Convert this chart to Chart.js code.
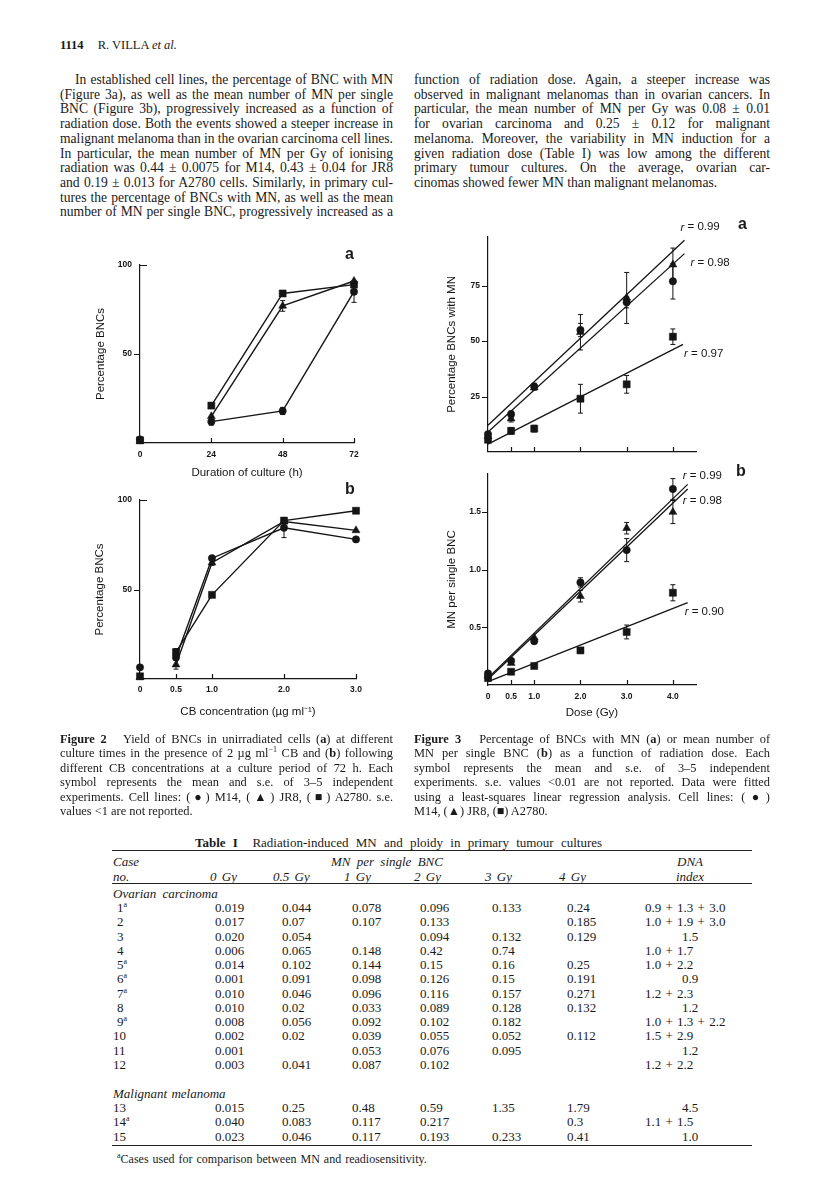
<!DOCTYPE html>
<html>
<head>
<meta charset="utf-8">
<script src="https://cdn.jsdelivr.net/npm/chart.js@4.4.0/dist/chart.umd.min.js"></script>
<style>
  body { margin: 0; background: #fff; }
  #page { position: relative; width: 816px; height: 1182px; overflow: hidden;
          font-family: 'Liberation Serif', 'Times New Roman', serif; color: #1a1a1a; }
  canvas { position: absolute; }
  .col { position: absolute; font-size: 13.6px; line-height: 14.7px; word-spacing: -2px; }
  .col div, .cap div { text-align: justify; text-align-last: justify; }
  .col div.end, .cap div.end { text-align-last: left; word-spacing: 0; }
  .cap { position: absolute; font-size: 12.4px; line-height: 14.4px; word-spacing: -2px; }
  .t { position: absolute; font-size: 13px; line-height: 14px; white-space: nowrap; }
  .rule { position: absolute; left: 112px; width: 640px; border-top: 1px solid #222; }
  .panel { position: absolute; font: bold 16px 'Liberation Sans', Arial, sans-serif; line-height: 1; }
  sup { font-size: 8px; line-height: 0; }
</style>
</head>
<body>
<div id="page">
  <div class="t" style="left:60px;top:38px;font-size:12.5px"><b>1114</b><span style="margin-left:14px">R. VILLA <i>et al.</i></span></div>

  <div class="col" style="left:60px;top:73px;width:333px">
    <div style="text-indent:15px">In established cell lines, the percentage of BNC with MN</div>
    <div>(Figure 3a), as well as the mean number of MN per single</div>
    <div>BNC (Figure 3b), progressively increased as a function of</div>
    <div>radiation dose. Both the events showed a steeper increase in</div>
    <div>malignant melanoma than in the ovarian carcinoma cell lines.</div>
    <div>In particular, the mean number of MN per Gy of ionising</div>
    <div>radiation was 0.44 ± 0.0075 for M14, 0.43 ± 0.04 for JR8</div>
    <div>and 0.19 ± 0.013 for A2780 cells. Similarly, in primary cul-</div>
    <div>tures the percentage of BNCs with MN, as well as the mean</div>
    <div>number of MN per single BNC, progressively increased as a</div>
  </div>
  <div class="col" style="left:414px;top:73px;width:356px">
    <div>function of radiation dose. Again, a steeper increase was</div>
    <div>observed in malignant melanomas than in ovarian cancers. In</div>
    <div>particular, the mean number of MN per Gy was 0.08 ± 0.01</div>
    <div>for ovarian carcinoma and 0.25 ± 0.12 for malignant</div>
    <div>melanoma. Moreover, the variability in MN induction for a</div>
    <div>given radiation dose (Table I) was low among the different</div>
    <div>primary tumour cultures. On the average, ovarian car-</div>
    <div class="end">cinomas showed fewer MN than malignant melanomas.</div>
  </div>

  <canvas id="fig2a" width="320" height="240" style="left:60px;top:245px"></canvas>
  <canvas id="fig2b" width="320" height="245" style="left:60px;top:480px"></canvas>
  <canvas id="fig3a" width="340" height="250" style="left:420px;top:215px"></canvas>
  <canvas id="fig3b" width="340" height="268" style="left:420px;top:455px"></canvas>

  <div class="panel" style="left:345px;top:246px">a</div>
  <div class="panel" style="left:345px;top:481px">b</div>
  <div class="panel" style="left:738px;top:216px">a</div>
  <div class="panel" style="left:736px;top:463px">b</div>

  <div class="cap" style="left:60px;top:732px;width:333px">
    <div><b>Figure 2</b>&nbsp;&nbsp; Yield of BNCs in unirradiated cells (<b>a</b>) at different</div>
    <div>culture times in the presence of 2 µg ml<sup>−1</sup> CB and (<b>b</b>) following</div>
    <div>different CB concentrations at a culture period of 72 h. Each</div>
    <div>symbol represents the mean and s.e. of 3–5 independent</div>
    <div>experiments. Cell lines: (●) M14, (▲) JR8, (■) A2780. s.e.</div>
    <div class="end">values &lt;1 are not reported.</div>
  </div>
  <div class="cap" style="left:414px;top:732px;width:356px">
    <div><b>Figure 3</b>&nbsp;&nbsp; Percentage of BNCs with MN (<b>a</b>) or mean number of</div>
    <div>MN per single BNC (<b>b</b>) as a function of radiation dose. Each</div>
    <div>symbol represents the mean and s.e. of 3–5 independent</div>
    <div>experiments. s.e. values &lt;0.01 are not reported. Data were fitted</div>
    <div>using a least-squares linear regression analysis. Cell lines: (●)</div>
    <div class="end">M14, (▲) JR8, (■) A2780.</div>
  </div>

  <div id="table"></div>
</div>

<script>
// ---------- Figure 2a: duration of culture ----------
const hours = [0, 24, 48, 72];
const m14Hours = [2, 12, 18, 85];
const m14HoursSe = [0, 2, 2, 6];
const jr8Hours = [1, 15, 77, 91];
const jr8HoursSe = [0, 0, 3, 0];
const a2780Hours = [1.5, 21, 84, 89];
const a2780HoursSe = [0, 1.5, 0, 0];

// ---------- Figure 2b: CB concentration ----------
const cbConc = [0, 0.5, 1, 2, 3];
const m14Cb = [6.5, 12, 67.5, 84.5, 78];
const m14CbSe = [0, 0, 0, 5.5, 0];
const jr8Cb = [1, 8, 65, 88, 83];
const jr8CbSe = [0, 2.5, 1.5, 0, 0];
const a2780Cb = [1.5, 15, 47, 88.5, 94];
const a2780CbSe = [0, 2, 0, 0, 0];

// ---------- Figure 3: dose ----------
const doses = [0, 0.5, 1, 2, 3, 4];
const m14Pct = [8, 17, 29.5, 55, 67.5, 77];
const m14PctSe = [0, 1.5, 1.5, 3, 2.5, 8];
const jr8Pct = [7, 15, 29, 54, 69.5, 84.5];
const jr8PctSe = [0, 1.5, 1, 8, 11.5, 7.5];
const a2780Pct = [5.5, 9.5, 10.5, 24, 30.5, 52];
const a2780PctSe = [0, 1.5, 1.5, 6.5, 4, 3.5];

const m14Mn = [0.1, 0.21, 0.38, 0.89, 1.17, 1.70];
const m14MnSe = [0, 0, 0.02, 0.04, 0.1, 0.09];
const jr8Mn = [0.08, 0.19, 0.41, 0.77, 1.36, 1.50];
const jr8MnSe = [0, 0, 0, 0.05, 0.05, 0.1];
const a2780Mn = [0.06, 0.115, 0.165, 0.30, 0.46, 0.80];
const a2780MnSe = [0, 0, 0, 0, 0.06, 0.07];

// regression lines: [start, end] doses and values, with r
const fitPctX = [[0, 4.25], [0, 4.25], [0, 4.22]];
const fitPctY = [[12, 95.5], [9, 89.5], [3.5, 48.5]];
const fitPctR = ['0.99', '0.98', '0.97'];
const fitMnX = [[0, 4.32], [0, 4.32], [0, 4.32]];
const fitMnY = [[0.06, 1.74], [0.05, 1.70], [0.03, 0.715]];
const fitMnR = ['0.99', '0.98', '0.90'];

// ---------- axes ----------
const hourTicks = [0, 24, 48, 72];
const hourLabels = ['0', '24', '48', '72'];
const cbTicks = [0, 0.5, 1, 2, 3];
const cbLabels = ['0', '0.5', '1.0', '2.0', '3.0'];
const doseTicks = [0, 0.5, 1, 2, 3, 4];
const doseLabels = ['0', '0.5', '1.0', '2.0', '3.0', '4.0'];
const pctTicks = [50, 100];
const pctLabels = ['50', '100'];
const pctMnTicks = [25, 50, 75];
const pctMnLabels = ['25', '50', '75'];
const mnTicks = [0.5, 1.0, 1.5];
const mnLabels = ['0.5', '1.0', '1.5'];

// ---------- Table I ----------
const tableDoses = ['0 Gy', '0.5 Gy', '1 Gy', '2 Gy', '3 Gy', '4 Gy'];
const ovarianCases = ['1', '2', '3', '4', '5', '6', '7', '8', '9', '10', '11', '12'];
const ovarianUsed = [1, 0, 0, 0, 1, 1, 1, 0, 1, 0, 0, 0];
const ovarianMN = [
  ['0.019', '0.044', '0.078', '0.096', '0.133', '0.24'],
  ['0.017', '0.07', '0.107', '0.133', '', '0.185'],
  ['0.020', '0.054', '', '0.094', '0.132', '0.129'],
  ['0.006', '0.065', '0.148', '0.42', '0.74', ''],
  ['0.014', '0.102', '0.144', '0.15', '0.16', '0.25'],
  ['0.001', '0.091', '0.098', '0.126', '0.15', '0.191'],
  ['0.010', '0.046', '0.096', '0.116', '0.157', '0.271'],
  ['0.010', '0.02', '0.033', '0.089', '0.128', '0.132'],
  ['0.008', '0.056', '0.092', '0.102', '0.182', ''],
  ['0.002', '0.02', '0.039', '0.055', '0.052', '0.112'],
  ['0.001', '', '0.053', '0.076', '0.095', ''],
  ['0.003', '0.041', '0.087', '0.102', '', '']
];
const ovarianDNA = ['0.9 + 1.3 + 3.0', '1.0 + 1.9 + 3.0', '1.5', '1.0 + 1.7', '1.0 + 2.2', '0.9',
  '1.2 + 2.3', '1.2', '1.0 + 1.3 + 2.2', '1.5 + 2.9', '1.2', '1.2 + 2.2'];
const melanomaCases = ['13', '14', '15'];
const melanomaUsed = [0, 1, 0];
const melanomaMN = [
  ['0.015', '0.25', '0.48', '0.59', '1.35', '1.79'],
  ['0.040', '0.083', '0.117', '0.217', '', '0.3'],
  ['0.023', '0.046', '0.117', '0.193', '0.233', '0.41']
];
const melanomaDNA = ['4.5', '1.1 + 1.5', '1.0'];

const ink = '#151515';
const sans = "'Liberation Sans', Arial, sans-serif";

// error bars, inward/outward tick marks and r labels
const paperPlugin = {
  id: 'paper',
  beforeDatasetsDraw(chart) {
    const { ctx, scales: { x, y } } = chart;
    ctx.save();
    ctx.strokeStyle = ink;
    ctx.lineWidth = 1;
    chart.data.datasets.forEach(ds => {
      if (!ds.err) return;
      ds.data.forEach((p, i) => {
        const e = ds.err[i];
        if (!e) return;
        const px = x.getPixelForValue(p.x);
        const top = y.getPixelForValue(p.y + e);
        const bot = y.getPixelForValue(p.y - e);
        ctx.beginPath();
        ctx.moveTo(px, top); ctx.lineTo(px, bot);
        ctx.moveTo(px - 2.5, top); ctx.lineTo(px + 2.5, top);
        ctx.moveTo(px - 2.5, bot); ctx.lineTo(px + 2.5, bot);
        ctx.stroke();
      });
    });
    ctx.restore();
  },
  afterDraw(chart) {
    const { ctx, scales: { x, y } } = chart;
    ctx.save();
    ctx.strokeStyle = ink;
    ctx.lineWidth = 1.2;
    ctx.beginPath();
    x.ticks.forEach(t => {
      if (t.value === x.min) return;
      const px = Math.round(x.getPixelForValue(t.value)) + 0.5;
      ctx.moveTo(px, x.top); ctx.lineTo(px, x.top - 5);
    });
    y.ticks.forEach(t => {
      const py = Math.round(y.getPixelForValue(t.value)) + 0.5;
      const dir = t.value === y.max ? 7 : -6;
      ctx.moveTo(y.right, py); ctx.lineTo(y.right + dir, py);
    });
    ctx.stroke();

    ctx.fillStyle = ink;
    ctx.textBaseline = 'middle';
    chart.data.datasets.forEach(ds => {
      if (!ds.rLabel) return;
      const end = ds.data[ds.data.length - 1];
      const lx = x.getPixelForValue(end.x) + ds.rOffset[0];
      const ly = y.getPixelForValue(end.y) + ds.rOffset[1];
      ctx.font = 'italic 11.5px ' + sans;
      ctx.fillText('r', lx, ly);
      const w = ctx.measureText('r').width;
      ctx.font = '11.5px ' + sans;
      ctx.fillText(' = ' + ds.rLabel, lx + w, ly);
    });
    ctx.restore();
  }
};

function series(xs, ys, errs, shape, joined) {
  return {
    data: xs.map((v, i) => ({ x: v, y: ys[i] })),
    err: errs,
    showLine: joined,
    borderColor: ink,
    backgroundColor: ink,
    borderWidth: 1.4,
    pointStyle: shape,
    pointRadius: shape === 'triangle' ? 4.6 : (shape === 'rect' ? 5 : 3.7),
    pointBorderWidth: 0.5,
    clip: false,
    // the zero point is shown alone, lines start at the next point
    segment: { borderColor: c => (c.p0DataIndex === 0 ? 'rgba(0,0,0,0)' : ink) }
  };
}

function fit(xs, ys, r, offset) {
  return {
    data: xs.map((v, i) => ({ x: v, y: ys[i] })),
    showLine: true,
    borderColor: ink,
    borderWidth: 1.3,
    pointRadius: 0,
    clip: false,
    rLabel: r,
    rOffset: offset
  };
}

function axis(o) {
  return {
    type: 'linear',
    min: o.min,
    max: o.max,
    grid: { display: false, drawTicks: false },
    border: { display: true, color: ink, width: 1.2 },
    afterBuildTicks: s => { s.ticks = o.ticks.map(v => ({ value: v })); },
    afterFit: s => { if (o.width) s.width = o.width; if (o.height) s.height = o.height; },
    ticks: {
      display: !!o.labels,
      autoSkip: false,
      maxRotation: 0,
      padding: o.pad || 0,
      color: ink,
      font: { family: sans, size: 8.5, weight: 'bold' },
      callback: (v, i) => (o.labels ? o.labels[i] : '')
    },
    title: o.title ? {
      display: true,
      text: o.title,
      color: ink,
      font: { family: sans, size: 11.5 },
      padding: o.titlePad
    } : { display: false }
  };
}

function figure(id, datasets, pad, xAxis, yAxis) {
  return new Chart(document.getElementById(id), {
    type: 'scatter',
    data: { datasets: datasets },
    options: {
      responsive: false,
      animation: false,
      events: [],
      layout: { padding: pad },
      plugins: { legend: { display: false }, tooltip: { enabled: false } },
      scales: { x: axis(xAxis), y: axis(yAxis) }
    },
    plugins: [paperPlugin]
  });
}

figure('fig2a', [
  series(hours, m14Hours, m14HoursSe, 'circle', true),
  series(hours, jr8Hours, jr8HoursSe, 'triangle', true),
  series(hours, a2780Hours, a2780HoursSe, 'rect', true)
], { left: 0, top: 20, right: 26, bottom: 5 },
{ min: 0, max: 72, ticks: hourTicks, labels: hourLabels, height: 37, pad: 6.5,
  title: 'Duration of culture (h)', titlePad: { top: 0, bottom: 0 } },
{ min: 0, max: 100, ticks: pctTicks, labels: pctLabels, width: 80, pad: 8,
  title: 'Percentage BNCs', titlePad: { top: 34, bottom: 0 } });

figure('fig2b', [
  series(cbConc, m14Cb, m14CbSe, 'circle', true),
  series(cbConc, jr8Cb, jr8CbSe, 'triangle', true),
  series(cbConc, a2780Cb, a2780CbSe, 'rect', true)
], { left: 0, top: 20, right: 24, bottom: 6 },
{ min: 0, max: 3, ticks: cbTicks, labels: cbLabels, height: 40, pad: 5.5,
  title: 'CB concentration (µg ml⁻¹)', titlePad: { top: 0, bottom: 0 } },
{ min: 0, max: 100, ticks: pctTicks, labels: pctLabels, width: 80, pad: 8,
  title: 'Percentage BNCs', titlePad: { top: 33, bottom: 0 } });

figure('fig3a', [
  fit(fitPctX[0], fitPctY[0], fitPctR[0], [-4, -13]),
  fit(fitPctX[1], fitPctY[1], fitPctR[1], [6, 9]),
  fit(fitPctX[2], fitPctY[2], fitPctR[2], [1, 9]),
  series(doses, m14Pct, m14PctSe, 'circle', false),
  series(doses, jr8Pct, jr8PctSe, 'triangle', false),
  series(doses, a2780Pct, a2780PctSe, 'rect', false)
], { left: 0, top: 22, right: 64, bottom: 4 },
{ min: 0, max: 4.5, ticks: doseTicks, height: 4 },
{ min: 0, max: 97, ticks: pctMnTicks, labels: pctMnLabels, width: 68, pad: 8,
  title: 'Percentage BNCs with MN', titlePad: { top: 25, bottom: 0 } });

figure('fig3b', [
  fit(fitMnX[0], fitMnY[0], fitMnR[0], [-5, -9]),
  fit(fitMnX[1], fitMnY[1], fitMnR[1], [-5, 12]),
  fit(fitMnX[2], fitMnY[2], fitMnR[2], [-3, 9]),
  series(doses, m14Mn, m14MnSe, 'circle', false),
  series(doses, jr8Mn, jr8MnSe, 'triangle', false),
  series(doses, a2780Mn, a2780MnSe, 'rect', false)
], { left: 0, top: 19, right: 64, bottom: 3 },
{ min: 0, max: 4.5, ticks: doseTicks, labels: doseLabels, height: 35, pad: 7,
  title: 'Dose (Gy)', titlePad: { top: 0, bottom: 0 } },
{ min: 0, max: 1.83, ticks: mnTicks, labels: mnLabels, width: 68, pad: 7,
  title: 'MN per single BNC', titlePad: { top: 25, bottom: 0 } });

// ---------- build the table ----------
const table = document.getElementById('table');
const valueLefts = [215, 282, 352, 420, 492, 567];
const headLefts = [210, 273, 344, 414, 485, 559];

function cell(html, left, top, extra) {
  const d = document.createElement('div');
  d.className = 't';
  d.style.left = left + 'px';
  d.style.top = top + 'px';
  if (extra) d.style.cssText += extra;
  d.innerHTML = html;
  table.appendChild(d);
}
function rule(top, width) {
  const d = document.createElement('div');
  d.className = 'rule';
  d.style.top = top + 'px';
  d.style.borderTopWidth = width + 'px';
  table.appendChild(d);
}

cell('<b>Table I</b>&nbsp;&nbsp;Radiation-induced MN and ploidy in primary tumour cultures', 195, 836, 'word-spacing:4px');
rule(850, 1.5);
cell('<i>Case</i>', 113, 855);
cell('<i>no.</i>', 113, 870);
cell('<i>MN per single BNC</i>', 331, 855, 'word-spacing:3px');
tableDoses.forEach((d, i) => cell('<i>' + d + '</i>', headLefts[i], 870, 'word-spacing:2px'));
cell('<i>DNA</i>', 640, 855, 'width:100px;text-align:center');
cell('<i>index</i>', 640, 870, 'width:100px;text-align:center');
rule(883, 1);

function dataRows(cases, used, mn, dna, top0) {
  cases.forEach((c, r) => {
    const top = top0 + r * 14.27;
    const label = c + (used[r] ? '<sup>a</sup>' : '');
    cell(label, c.length === 1 ? 117 : 113, top);
    mn[r].forEach((v, i) => { if (v) cell(v, valueLefts[i], top); });
    if (dna[r].indexOf('+') >= 0) cell(dna[r], 645, top, 'word-spacing:1px');
    else cell(dna[r], 640, top, 'width:100px;text-align:center');
  });
}

cell('<i>Ovarian carcinoma</i>', 113, 887, 'word-spacing:3px');
dataRows(ovarianCases, ovarianUsed, ovarianMN, ovarianDNA, 901);
cell('<i>Malignant melanoma</i>', 113, 1087, 'word-spacing:1px');
dataRows(melanomaCases, melanomaUsed, melanomaMN, melanomaDNA, 1101);
rule(1145, 1.5);
cell('<sup>a</sup>Cases used for comparison between MN and readiosensitivity.', 117, 1152, 'font-size:12px;word-spacing:1px');
</script>
</body>
</html>
